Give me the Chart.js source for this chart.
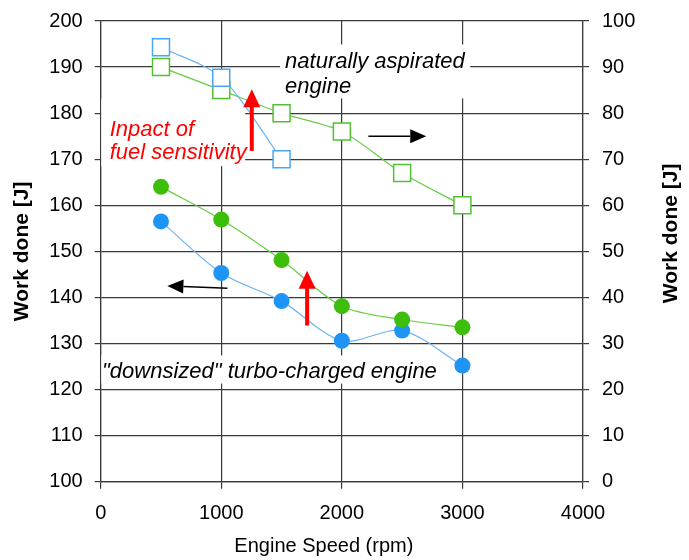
<!DOCTYPE html>
<html lang="en">
<head>
<meta charset="UTF-8">
<title>Work done vs engine speed</title>
<script src="https://cdn.jsdelivr.net/npm/chart.js"></script>
<style>
  body { margin: 0; background: #fff; }
  #wrap { width: 689px; height: 560px; }
</style>
</head>
<body>
<div id="wrap"><canvas id="chart" width="689" height="560"></canvas></div>
<script>
// data
const speeds = [500, 1000, 1500, 2000, 2500, 3000];
const turboBlue = [156.5, 145.3, 139.2, 130.6, 132.8, 125.2];   // left axis
const turboGreen = [164, 156.9, 148.1, 138.1, 135.2, 133.5];    // left axis
const naGreen = [90, 85, 80, 76, 67, 60];                       // right axis
const naBlueSpeeds = [500, 1000, 1500];
const naBlue = [94.3, 87.7, 70];                                // right axis

const FONT = '"Liberation Sans", Arial, sans-serif';
const GRID = '#3a3a3a';

const pts = (xs, ys) => xs.map((x, i) => ({ x: x, y: ys[i] }));

// annotations: text, white boxes and arrows placed in data units (x rpm, y left axis J)
const notes = {
  id: 'notes',
  beforeDatasetsDraw(chart) {
    const ctx = chart.ctx, sx = chart.scales.x, sy = chart.scales.y;
    const box = (x0, x1, y0, y1) => {
      const l = sx.getPixelForValue(x0), r = sx.getPixelForValue(x1);
      const t = sy.getPixelForValue(y0), b = sy.getPixelForValue(y1);
      ctx.fillRect(l, t, r - l, b - t);
    };
    ctx.save();
    ctx.fillStyle = '#fff';
    box(1488, 3065, 194.9, 183.2);
    box(5, 1198, 183.0, 168.5);
    box(5, 2783, 127.4, 121.3);
    ctx.restore();
  },
  afterDatasetsDraw(chart) {
    const ctx = chart.ctx, sx = chart.scales.x, sy = chart.scales.y;
    const px = v => sx.getPixelForValue(v), py = v => sy.getPixelForValue(v);
    ctx.save();
    ctx.textBaseline = 'alphabetic';
    ctx.textAlign = 'left';
    ctx.font = 'italic 22px ' + FONT;
    ctx.fillStyle = '#000';
    ctx.fillText('naturally aspirated', px(1529), py(189.9));
    ctx.fillText('engine', px(1529), py(184.4));
    ctx.fillText('"downsized" turbo-charged engine', px(11), py(122.6));
    ctx.fillStyle = '#ff0000';
    ctx.fillText('Inpact of', px(75), py(175.0));
    ctx.fillText('fuel sensitivity', px(75), py(170.0));

    const redArrow = (xv, yb, yt) => {
      const x = px(xv), b = py(yb), t = py(yt);
      ctx.strokeStyle = '#ff0000';
      ctx.fillStyle = '#ff0000';
      ctx.lineWidth = 4;
      ctx.beginPath();
      ctx.moveTo(x, b);
      ctx.lineTo(x, t + 16);
      ctx.stroke();
      ctx.beginPath();
      ctx.moveTo(x, t);
      ctx.lineTo(x - 8.5, t + 18);
      ctx.lineTo(x + 8.5, t + 18);
      ctx.closePath();
      ctx.fill();
    };
    redArrow(1253, 171.8, 185.2);
    redArrow(1712, 133.9, 145.8);

    const blackArrow = (x0v, y0v, x1v, y1v) => {
      const x0 = px(x0v), y0 = py(y0v), x1 = px(x1v), y1 = py(y1v);
      const a = Math.atan2(y1 - y0, x1 - x0);
      const len = 16, hw = 7;
      const bx = x1 - len * Math.cos(a), by = y1 - len * Math.sin(a);
      ctx.strokeStyle = '#000';
      ctx.fillStyle = '#000';
      ctx.lineWidth = 1.5;
      ctx.beginPath();
      ctx.moveTo(x0, y0);
      ctx.lineTo(bx, by);
      ctx.stroke();
      ctx.beginPath();
      ctx.moveTo(x1, y1);
      ctx.lineTo(bx + hw * Math.sin(a), by - hw * Math.cos(a));
      ctx.lineTo(bx - hw * Math.sin(a), by + hw * Math.cos(a));
      ctx.closePath();
      ctx.fill();
    };
    blackArrow(2220, 175.0, 2700, 175.0);
    blackArrow(1051, 142.0, 553, 142.5);
    ctx.restore();
  },
  afterDraw(chart) {
    const ctx = chart.ctx, a = chart.chartArea;
    const midY = (a.top + a.bottom) / 2;
    ctx.save();
    ctx.fillStyle = '#000';
    ctx.textAlign = 'center';
    ctx.textBaseline = 'middle';
    ctx.font = 'bold 21px ' + FONT;
    ctx.translate(a.left - 78, midY);
    ctx.rotate(-Math.PI / 2);
    ctx.fillText('Work done [J]', 0, 0);
    ctx.setTransform(1, 0, 0, 1, 0, 0);
    ctx.translate(a.right + 88, midY - 18);
    ctx.rotate(-Math.PI / 2);
    ctx.fillText('Work done [J]', 0, 0);
    ctx.setTransform(1, 0, 0, 1, 0, 0);
    ctx.font = '20px ' + FONT;
    ctx.fillText('Engine Speed (rpm)', (a.left + a.right) / 2 - 18, a.bottom + 65);
    ctx.restore();
  }
};

new Chart(document.getElementById('chart'), {
  type: 'line',
  data: {
    datasets: [
      {
        label: 'NA blue',
        data: pts(naBlueSpeeds, naBlue),
        yAxisID: 'y2',
        borderColor: '#6ab4f2',
        borderWidth: 1.2,
        pointStyle: 'rect',
        pointRadius: 12,
        pointBackgroundColor: '#fff',
        pointBorderColor: '#4aa6f0',
        pointBorderWidth: 1.5,
        tension: 0.3
      },
      {
        label: 'NA green',
        data: pts(speeds, naGreen),
        yAxisID: 'y2',
        borderColor: '#66cc44',
        borderWidth: 1.2,
        pointStyle: 'rect',
        pointRadius: 12,
        pointBackgroundColor: '#fff',
        pointBorderColor: '#52c030',
        pointBorderWidth: 1.5,
        tension: 0.3
      },
      {
        label: 'Turbo green',
        data: pts(speeds, turboGreen),
        yAxisID: 'y',
        borderColor: '#66cc44',
        borderWidth: 1.2,
        pointRadius: 8,
        pointBackgroundColor: '#3cbe0a',
        pointBorderColor: '#3cbe0a',
        pointBorderWidth: 0,
        tension: 0.3
      },
      {
        label: 'Turbo blue',
        data: pts(speeds, turboBlue),
        yAxisID: 'y',
        borderColor: '#6ab4f2',
        borderWidth: 1.2,
        pointRadius: 8,
        pointBackgroundColor: '#1e95f5',
        pointBorderColor: '#1e95f5',
        pointBorderWidth: 0,
        tension: 0.3
      }
    ]
  },
  options: {
    responsive: false,
    animation: false,
    layout: { padding: { top: 19.5, left: 0, right: 0, bottom: 0 } },
    plugins: { legend: { display: false }, tooltip: { enabled: false } },
    scales: {
      x: {
        type: 'linear',
        min: 0, max: 4000,
        afterFit: s => { s.height = 78.3; },
        ticks: { stepSize: 1000, color: '#000', padding: 13, maxRotation: 0, callback: v => String(v), font: { family: FONT, size: 20 } },
        grid: { color: GRID, lineWidth: 1.2, tickLength: 7, tickColor: GRID },
        border: { color: GRID, width: 1.2 }
      },
      y: {
        position: 'left',
        min: 100, max: 200,
        afterFit: s => { s.width = 100.7; },
        ticks: { stepSize: 10, color: '#000', padding: 12, font: { family: FONT, size: 20, lineHeight: 0.8 } },
        grid: { color: GRID, lineWidth: 1.2, tickLength: 6, tickColor: GRID },
        border: { color: GRID, width: 1.2 }
      },
      y2: {
        position: 'right',
        min: 0, max: 100,
        afterFit: s => { s.width = 106; },
        ticks: { stepSize: 10, color: '#000', padding: 13, font: { family: FONT, size: 20, lineHeight: 0.8 } },
        grid: { drawOnChartArea: false, tickLength: 6, color: GRID, lineWidth: 1.2 },
        border: { color: GRID, width: 1.2 }
      }
    }
  },
  plugins: [notes]
});
</script>
</body>
</html>
